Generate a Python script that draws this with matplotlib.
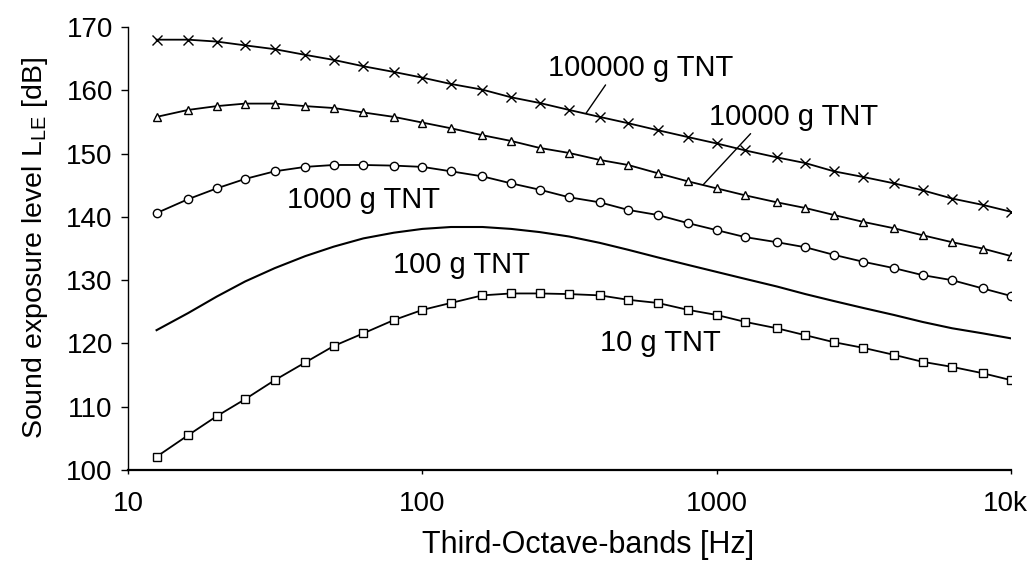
import numpy as np
import matplotlib
matplotlib.use("Agg")
import matplotlib.pyplot as plt
import matplotlib.transforms as mtransforms

# third-octave band centre frequencies [Hz]
freqs = [12.5, 16, 20, 25, 31.5, 40, 50, 63, 80, 100, 125, 160, 200, 250,
         315, 400, 500, 630, 800, 1000, 1250, 1600, 2000, 2500, 3150, 4000,
         5000, 6300, 8000, 10000]

# sound exposure level L_LE [dB] per charge mass
tnt_100000g = [168.0, 168.0, 167.7, 167.1, 166.5, 165.6, 164.8, 163.8, 162.9,
               162.0, 161.0, 160.1, 158.9, 158.0, 156.9, 155.8, 154.8, 153.7,
               152.6, 151.6, 150.5, 149.4, 148.5, 147.2, 146.3, 145.3, 144.2,
               142.9, 141.9, 140.8]
tnt_10000g = [155.8, 156.9, 157.5, 157.9, 157.9, 157.5, 157.2, 156.5, 155.8,
              154.9, 154.0, 152.9, 152.0, 150.9, 150.1, 149.0, 148.2, 146.9,
              145.6, 144.5, 143.4, 142.3, 141.4, 140.3, 139.2, 138.2, 137.1,
              136.0, 135.0, 133.8]
tnt_1000g = [140.6, 142.8, 144.5, 146.0, 147.2, 147.9, 148.2, 148.2, 148.1,
             147.9, 147.2, 146.4, 145.3, 144.3, 143.1, 142.3, 141.1, 140.3,
             139.0, 137.9, 136.8, 136.0, 135.2, 134.0, 132.9, 131.9, 130.8,
             130.0, 128.7, 127.5]
tnt_100g = [122.1, 124.8, 127.4, 129.8, 131.9, 133.8, 135.3, 136.6, 137.5,
            138.1, 138.4, 138.4, 138.1, 137.6, 136.9, 135.9, 134.8, 133.6,
            132.4, 131.3, 130.2, 129.0, 127.8, 126.7, 125.6, 124.5, 123.4,
            122.4, 121.6, 120.8]
tnt_10g = [102.1, 105.5, 108.5, 111.2, 114.2, 117.0, 119.6, 121.6, 123.7,
           125.3, 126.4, 127.6, 127.9, 127.9, 127.8, 127.6, 126.9, 126.4,
           125.3, 124.5, 123.4, 122.4, 121.3, 120.2, 119.3, 118.2, 117.1,
           116.3, 115.3, 114.2]

xticks = [10, 100, 1000, 10000]
xticklabels = ["10", "100", "1000", "10k"]
yticks = [100, 110, 120, 130, 140, 150, 160, 170]

plt.rcParams['font.family'] = ['Liberation Sans', 'DejaVu Sans']

fig = plt.figure(figsize=(10.36, 5.70), dpi=100)
ax = fig.add_axes([0.1236, 0.1754, 0.8524, 0.7772])

kw = dict(color='black', lw=1.3, mfc='white', mec='black', mew=1.0)
ax.plot(freqs, tnt_100000g, marker='x', ms=7, **kw)
ax.plot(freqs, tnt_10000g, marker='^', ms=6, **kw)
ax.plot(freqs, tnt_1000g, marker='o', ms=6, **kw)
ax.plot(freqs, tnt_100g, color='black', lw=1.5)
ax.plot(freqs, tnt_10g, marker='s', ms=6, **kw)

ax.set_xscale('log')
ax.set_xlim(10, 10000)
ax.set_ylim(100, 170)
ax.set_xticks(xticks)
ax.set_xticklabels(xticklabels)
ax.minorticks_off()
ax.set_yticks(yticks)
ax.tick_params(axis='both', labelsize=20, color='black')
ax.tick_params(axis='y', direction='out', length=5, width=1, pad=6)
ax.tick_params(axis='x', direction='out', length=3, width=1, pad=12)

# pull the "10k" label a bit inwards so it is not cut at the edge
last = ax.get_xticklabels()[-1]
last.set_transform(last.get_transform() +
                   mtransforms.ScaledTranslation(-6 / 100, 0, fig.dpi_scale_trans))

for s in ('top', 'right'):
    ax.spines[s].set_visible(False)
ax.spines['left'].set_linewidth(1.0)
ax.spines['bottom'].set_linewidth(1.6)

ax.set_xlabel('Third-Octave-bands [Hz]', fontsize=22)
ax.xaxis.set_label_coords(0.521, -0.135)
ax.set_ylabel(r'Sound exposure level L$_{\mathregular{LE}}$ [dB]',
              fontsize=20.5, labelpad=12)

lab = dict(fontsize=21, ha='center', va='center')
line = dict(arrowstyle='-', color='black', lw=1.0, shrinkA=0, shrinkB=0)
ax.annotate('100000 g TNT', xy=(360, 156.4), xytext=(552, 163.5),
            arrowprops=dict(relpos=(0.32, 0.0), **line), **lab)
ax.annotate('10000 g TNT', xy=(900, 145.1), xytext=(1826, 155.8),
            arrowprops=dict(relpos=(0.26, 0.0), **line), **lab)
ax.text(63, 142.6, '1000 g TNT', **lab)
ax.text(136, 132.4, '100 g TNT', **lab)
ax.text(645, 120.1, '10 g TNT', **lab)

fig.savefig('out.png', dpi=100)
